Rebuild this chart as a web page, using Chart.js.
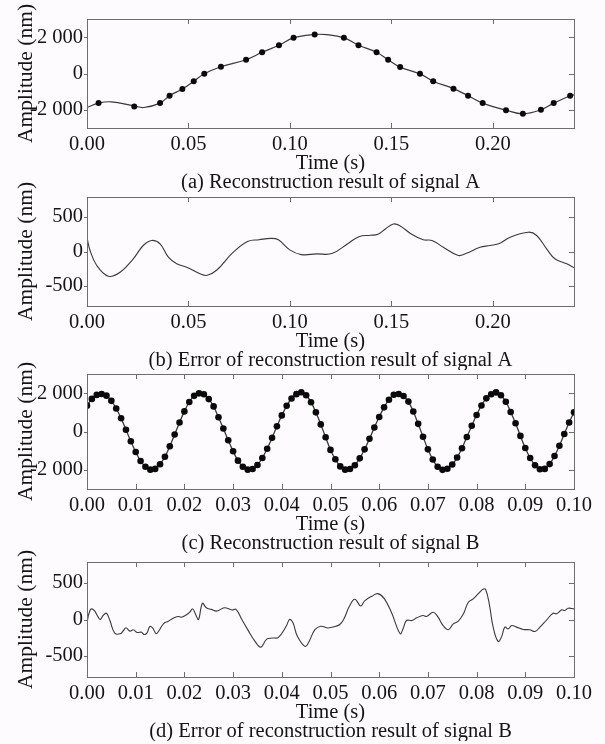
<!DOCTYPE html>
<html>
<head>
<meta charset="utf-8">
<script src="https://cdn.jsdelivr.net/npm/chart.js@4.4.0/dist/chart.umd.min.js"></script>
<style>
  body { margin: 0; background: #fdfbfd; }
  .panel { position: absolute; left: 0; width: 605px; }
</style>
</head>
<body>
<div class="panel" style="top:0px"><canvas id="chartA" width="605" height="192"></canvas></div>
<div class="panel" style="top:178px"><canvas id="chartErrA" width="605" height="192"></canvas></div>
<div class="panel" style="top:355px"><canvas id="chartB" width="605" height="198"></canvas></div>
<div class="panel" style="top:543px"><canvas id="chartErrB" width="605" height="198"></canvas></div>
<script>
// (a) signal A: reconstructed curve and sample points
const tA = [0, 0.0057, 0.012, 0.0233, 0.028, 0.036, 0.0407, 0.047, 0.0526, 0.0578, 0.066, 0.0784, 0.0863,
  0.0946, 0.1018, 0.1122, 0.118, 0.1266, 0.1338, 0.1427, 0.1484, 0.1543, 0.1641, 0.1706, 0.1806, 0.1878,
  0.195, 0.2065, 0.2148, 0.2237, 0.23, 0.2381, 0.24];
const ampA = [-1870, -1630, -1560, -1790, -1870, -1630, -1222, -852, -426, -19, 370, 759, 1167,
  1556, 1963, 2148, 2140, 1963, 1556, 1167, 759, 352, -19, -426, -833, -1222,
  -1630, -2019, -2222, -2000, -1630, -1222, -1180];
const tA_pts = [0.0057, 0.0233, 0.036, 0.0407, 0.047, 0.0526, 0.0578, 0.066, 0.0784, 0.0863, 0.0946, 0.1018,
  0.1122, 0.1266, 0.1338, 0.1427, 0.1484, 0.1543, 0.1641, 0.1706, 0.1806, 0.1878, 0.195, 0.2065, 0.2148,
  0.2237, 0.23, 0.2381];
const ampA_pts = [-1630, -1815, -1630, -1222, -852, -426, -19, 370, 759, 1167, 1556, 1963,
  2148, 1963, 1556, 1167, 759, 352, -19, -426, -833, -1222, -1630, -2019, -2222,
  -2000, -1630, -1222];

// (b) error of signal A
const tErrA = [0, 0.0015, 0.0048, 0.0105, 0.0163, 0.0228, 0.0277, 0.0319, 0.036, 0.0401, 0.0442, 0.0491,
  0.0557, 0.0592, 0.064, 0.0716, 0.0791, 0.0848, 0.0905, 0.0943, 0.0999, 0.1056, 0.1132, 0.1207, 0.1283,
  0.134, 0.1396, 0.1434, 0.1472, 0.151, 0.154, 0.16, 0.1657, 0.17, 0.1756, 0.183, 0.187, 0.1937, 0.1986,
  0.2035, 0.2085, 0.2175, 0.2216, 0.2265, 0.2306, 0.2364, 0.24];
const errA = [200, 14, -203, -358, -300, -106, 87, 160, 111, -82, -178, -227,
  -323, -345, -268, -24, 146, 170, 190, 170, 24, -45, -34, -30, 110,
  215, 235, 250, 330, 398, 377, 250, 170, 160, 62, -58, -25, 62, 87,
  120, 207, 280, 232, 39, -106, -178, -236];

// (c) signal B: samples every 1 ms
const tB = [0.000, 0.001, 0.002, 0.003, 0.004, 0.005, 0.006, 0.007, 0.008, 0.009,
  0.010, 0.011, 0.012, 0.013, 0.014, 0.015, 0.016, 0.017, 0.018, 0.019,
  0.020, 0.021, 0.022, 0.023, 0.024, 0.025, 0.026, 0.027, 0.028, 0.029,
  0.030, 0.031, 0.032, 0.033, 0.034, 0.035, 0.036, 0.037, 0.038, 0.039,
  0.040, 0.041, 0.042, 0.043, 0.044, 0.045, 0.046, 0.047, 0.048, 0.049,
  0.050, 0.051, 0.052, 0.053, 0.054, 0.055, 0.056, 0.057, 0.058, 0.059,
  0.060, 0.061, 0.062, 0.063, 0.064, 0.065, 0.066, 0.067, 0.068, 0.069,
  0.070, 0.071, 0.072, 0.073, 0.074, 0.075, 0.076, 0.077, 0.078, 0.079,
  0.080, 0.081, 0.082, 0.083, 0.084, 0.085, 0.086, 0.087, 0.088, 0.089,
  0.090, 0.091, 0.092, 0.093, 0.094, 0.095, 0.096, 0.097, 0.098, 0.099, 0.100];
const ampB = [1350, 1700, 1910, 1960, 1870, 1600, 1200, 690, 90, -510,
  -1070, -1540, -1840, -1990, -1950, -1710, -1320, -770, -160, 470,
  1050, 1540, 1860, 1990, 1940, 1690, 1310, 740, 160, -460,
  -1030, -1520, -1840, -1990, -1960, -1750, -1380, -900, -330, 270,
  840, 1340, 1720, 1950, 2050, 1890, 1530, 1000, 370, -300,
  -960, -1450, -1820, -1990, -1960, -1760, -1400, -930, -380, 210,
  760, 1260, 1660, 1920, 1960, 1850, 1560, 1040, 400, -270,
  -930, -1460, -1840, -2000, -1940, -1720, -1360, -870, -290, 300,
  860, 1360, 1730, 1940, 2040, 1890, 1550, 1020, 430, -230,
  -860, -1380, -1760, -1970, -1950, -1700, -1280, -740, -130, 470, 1000];

// (d) error of signal B
const tErrB = [0, 0.0001, 0.0006, 0.001, 0.0016, 0.0023, 0.0027, 0.0033, 0.004, 0.0047, 0.0057, 0.0068,
  0.0075, 0.008, 0.0088, 0.0095, 0.0103, 0.0112, 0.0117, 0.0123, 0.0129, 0.0135, 0.0142, 0.0148, 0.0157,
  0.0167, 0.0177, 0.0187, 0.0194, 0.0205, 0.0211, 0.0217, 0.0224, 0.0229, 0.0237, 0.0245, 0.0255, 0.0267,
  0.0282, 0.0298, 0.0306, 0.0318, 0.033, 0.0345, 0.0357, 0.0369, 0.0381, 0.0393, 0.0409, 0.0416, 0.0423,
  0.0432, 0.0448, 0.0456, 0.0468, 0.048, 0.0495, 0.0511, 0.0519, 0.0527, 0.0539, 0.055, 0.0562, 0.057,
  0.0585, 0.0597, 0.061, 0.0625, 0.0643, 0.0649, 0.0656, 0.0667, 0.0677, 0.069, 0.0697, 0.0711, 0.0721,
  0.0731, 0.0742, 0.0752, 0.0762, 0.0773, 0.0783, 0.0793, 0.0803, 0.0814, 0.0819, 0.0826, 0.0834, 0.0844,
  0.0851, 0.0858, 0.0865, 0.0872, 0.0882, 0.0896, 0.0909, 0.092, 0.093, 0.0944, 0.0957, 0.0964, 0.0975,
  0.0981, 0.0988, 0.1];
const errB = [-219, -14, 123, 146, 114, 32, 0, 55, 86, -14, -187, -196,
  -151, -114, -160, -141, -178, -174, -205, -187, -96, -119, -196, -151, -59,
  -23, 18, 41, 32, 68, 100, 146, 55, 0, 222, 162, 139, 116,
  162, 130, 139, 0, -139, -301, -380, -269, -255, -245, -93, 0, -46,
  -231, -370, -301, -139, -93, -116, -93, -69, 0, 185, 278, 185, 255,
  320, 355, 290, 100, -196, -128, -14, -14, 23, 55, 41, 100, 32,
  -82, -141, -59, -27, 78, 237, 283, 352, 420, 406, 215, -105, -301,
  -242, -105, -128, -82, -105, -137, -141, -164, -105, -4, 86, 78, 133,
  123, 155, 146];

// tick values and captions
const xTicksA = [0, 0.05, 0.10, 0.15, 0.20];
const xTicksB = [0, 0.01, 0.02, 0.03, 0.04, 0.05, 0.06, 0.07, 0.08, 0.09, 0.10];
const yTicksSig = [-2000, 0, 2000];
const yTicksErr = [-500, 0, 500];
const captions = [
  '(a) Reconstruction result of signal A',
  '(b) Error of reconstruction result of signal A',
  '(c) Reconstruction result of signal B',
  '(d) Error of reconstruction result of signal B'
];

const FONT = "'Liberation Serif', 'Times New Roman', serif";
const TXT = '#141414';

const toPts = (xs, ys) => xs.map((x, i) => ({ x: x, y: ys[i] }));
const fmtY = v => {
  const s = String(Math.abs(v));
  const body = s.length > 3 ? s.slice(0, -3) + ' ' + s.slice(-3) : s;
  return (v < 0 ? '-' : '') + body;
};

// box round the plot with short ticks
const framePlugin = {
  id: 'frame',
  afterDraw(chart) {
    const { ctx, chartArea: { left, right, top, bottom }, scales: { x, y } } = chart;
    ctx.save();
    ctx.strokeStyle = '#6e6e6e';
    ctx.lineWidth = 1;
    ctx.strokeRect(left + 0.5, top + 0.5, right - left, bottom - top);
    ctx.beginPath();
    x.ticks.forEach(t => {
      const px = Math.round(x.getPixelForValue(t.value)) + 0.5;
      ctx.moveTo(px, top); ctx.lineTo(px, top + 5);
      ctx.moveTo(px, bottom); ctx.lineTo(px, bottom - 5);
    });
    y.ticks.forEach(t => {
      const py = Math.round(y.getPixelForValue(t.value)) + 0.5;
      ctx.moveTo(left - 3, py); ctx.lineTo(left, py);
      ctx.moveTo(right, py); ctx.lineTo(right - 5, py);
    });
    ctx.stroke();
    ctx.restore();
  }
};

function makePanel(id, datasets, xMax, xTicks, yLim, yTicks, caption) {
  new Chart(document.getElementById(id), {
    type: 'scatter',
    data: { datasets: datasets },
    plugins: [framePlugin],
    options: {
      responsive: false,
      animation: false,
      events: [],
      layout: { padding: { top: 19, right: 31, left: 0, bottom: 0 } },
      plugins: { legend: { display: false }, tooltip: { enabled: false } },
      scales: {
        x: {
          type: 'linear',
          min: 0,
          max: xMax,
          afterBuildTicks: s => { s.ticks = xTicks.map(v => ({ value: v })); },
          afterFit: s => { s.height = 64; },
          grid: { display: false, drawTicks: false },
          border: { display: false },
          ticks: {
            color: TXT, padding: 4, maxRotation: 0, autoSkip: false,
            font: { family: FONT, size: 20.5 },
            callback: v => v.toFixed(2)
          },
          title: {
            display: true,
            text: ['Time (s)', caption],
            color: TXT,
            padding: 0,
            font: { family: FONT, size: 20.5, lineHeight: 0.93 }
          }
        },
        y: {
          min: yLim[0],
          max: yLim[1],
          afterBuildTicks: s => { s.ticks = yTicks.map(v => ({ value: v })); },
          afterFit: s => { s.width = 87; },
          grid: { display: false, drawTicks: false },
          border: { display: false },
          ticks: {
            color: TXT, padding: 4,
            font: { family: FONT, size: 20.5 },
            callback: fmtY
          },
          title: {
            display: true,
            text: 'Amplitude (nm)',
            color: TXT,
            padding: { top: 13, bottom: 0 },
            font: { family: FONT, size: 21.5 }
          }
        }
      }
    }
  });
}

const curve = (pts, width) => ({
  data: pts, showLine: true, borderColor: '#3a3a3a', borderWidth: width,
  pointRadius: 0, tension: 0.4
});
const dots = (pts, r) => ({
  data: pts, showLine: false, pointRadius: r, pointBackgroundColor: '#0a0a0a',
  pointBorderWidth: 0
});

makePanel('chartA', [dots(toPts(tA_pts, ampA_pts), 3), curve(toPts(tA, ampA), 1.2)],
  0.24, xTicksA, [-3000, 3000], yTicksSig, captions[0]);
makePanel('chartErrA', [curve(toPts(tErrA, errA), 1.1)],
  0.24, xTicksA, [-790, 790], yTicksErr, captions[1]);
makePanel('chartB', [dots(toPts(tB, ampB), 3.3), curve(toPts(tB, ampB), 1.3)],
  0.10, xTicksB, [-3000, 3000], yTicksSig, captions[2]);
makePanel('chartErrB', [curve(toPts(tErrB, errB), 1.1)],
  0.10, xTicksB, [-790, 790], yTicksErr, captions[3]);
</script>
</body>
</html>
